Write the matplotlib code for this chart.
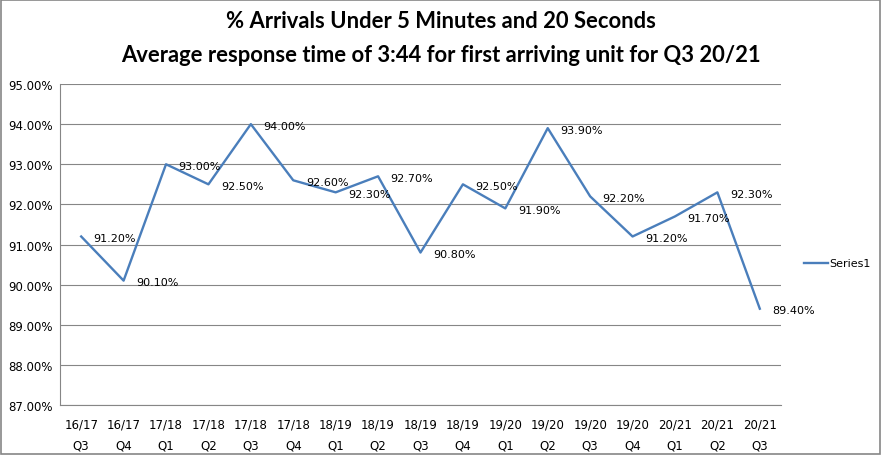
import matplotlib.pyplot as plt
from matplotlib.patches import Rectangle

# quarters and % arrivals under 5:20
periods = ['16/17', '16/17', '17/18', '17/18', '17/18', '17/18', '18/19', '18/19', '18/19',
           '18/19', '19/20', '19/20', '19/20', '19/20', '20/21', '20/21', '20/21']
quarters = ['Q3', 'Q4', 'Q1', 'Q2', 'Q3', 'Q4', 'Q1', 'Q2', 'Q3',
            'Q4', 'Q1', 'Q2', 'Q3', 'Q4', 'Q1', 'Q2', 'Q3']
pct_values = [91.2, 90.1, 93.0, 92.5, 94.0, 92.6, 92.3, 92.7, 90.8,
              92.5, 91.9, 93.9, 92.2, 91.2, 91.7, 92.3, 89.4]
y_ticks = [87, 88, 89, 90, 91, 92, 93, 94, 95]

line_color = '#4A7EBB'
tick_labels = [f'{p}\n{q}' for p, q in zip(periods, quarters)]

fig = plt.figure(figsize=(8.82, 4.56), dpi=100)
ax = fig.add_axes([0.068, 0.1096, 0.8175, 0.704])

x = list(range(len(pct_values)))
ax.plot(x, pct_values, color=line_color, linewidth=1.7, label='Series1')

# data labels to the right of each point
for xi, v in zip(x, pct_values):
    ax.annotate(f'{v:.2f}%', (xi, v), xytext=(9, -1), textcoords='offset points',
                ha='left', va='center', fontsize=8, color='#000000')

ax.set_xlim(-0.5, len(pct_values) - 0.5)
ax.set_ylim(87, 95)
ax.set_yticks(y_ticks)
ax.set_yticklabels([f'{t:.2f}%' for t in y_ticks])
ax.set_xticks(x)
ax.set_xticklabels(tick_labels, linespacing=1.8)
ax.tick_params(length=0, labelsize=8.5, colors='#000000')
ax.tick_params(axis='x', pad=9)
ax.tick_params(axis='y', pad=5)

ax.grid(axis='y', color='#868686', linewidth=0.8)
ax.set_axisbelow(True)
for side in ['top', 'right']:
    ax.spines[side].set_visible(False)
ax.spines['left'].set_color('#868686')
ax.spines['bottom'].set_color('#868686')
ax.spines['left'].set_linewidth(0.8)
ax.spines['bottom'].set_linewidth(0.8)

fig.legend(loc='center left', bbox_to_anchor=(0.9, 0.42), frameon=False,
           fontsize=8, handlelength=2.2, handletextpad=0.1)

fig.text(0.5, 0.952, '% Arrivals Under 5 Minutes and 20 Seconds',
         ha='center', va='center', fontsize=15.8, fontweight='bold', family='Lato')
fig.text(0.5, 0.878, 'Average response time of 3:44 for first arriving unit for Q3 20/21',
         ha='center', va='center', fontsize=15.8, fontweight='bold', family='Lato')

fig.patches.append(Rectangle((0.001, 0.002), 0.997, 0.995, transform=fig.transFigure,
                             fill=False, edgecolor='#868686', linewidth=1.2))

fig.savefig('out.png', dpi=100)
